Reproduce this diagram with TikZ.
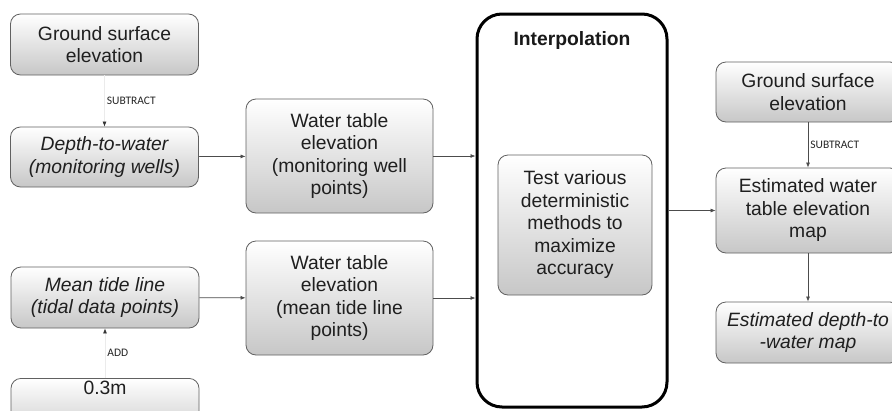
\documentclass[tikz,border=0pt]{standalone}
\usepackage{fontspec}
\setmainfont{Liberation Sans}
\newfontfamily\opfont{Carlito}
\usetikzlibrary{arrows.meta}
\begin{document}
\begin{tikzpicture}[x=1pt,y=-1pt,
  box/.style={draw=black!62, line width=0.8pt, rounded corners=10pt,
    top color=white, bottom color=black!22, align=center, inner sep=0pt,
    font=\fontsize{19.3}{22.5}\selectfont, text=black!88},
  arr/.style={draw=black!70, line width=0.7pt, -{Latex[length=5pt,width=4pt]}},
  arrfaint/.style={draw=black!8, line width=0.7pt, -{Latex[length=5pt,width=4pt,color=black!80]}},
  op/.style={font=\opfont\fontsize{11.5}{13}\selectfont, text=black!85, right, inner sep=2pt}]
\useasboundingbox (0,0) rectangle (892,410);
\fill[white] (0,0) rectangle (892,410);

% left column
\node[box, minimum width=188pt, minimum height=61pt] (gse1) at (104.5,44.5) {Ground surface\\elevation};
\node[box, minimum width=188pt, minimum height=60pt] (dtw) at (104.5,157) {\itshape Depth-to-water\\\itshape (monitoring wells)};
\node[box, minimum width=188pt, minimum height=61pt] (mtl) at (105,297.5) {\itshape Mean tide line\\\itshape (tidal data points)};
\node[box, minimum width=188pt, minimum height=61pt, anchor=north,
  label={[anchor=north, inner sep=0pt, yshift=-3pt, font=\fontsize{19.3}{22.5}\selectfont, text=black!88]north:0.3m}] (p3) at (105,378) {};

% middle column
\node[box, minimum width=187pt, minimum height=114pt] (wt1) at (339.5,156) {Water table\\elevation\\(monitoring well\\points)};
\node[box, minimum width=187pt, minimum height=114pt] (wt2) at (339.5,298) {Water table\\elevation\\(mean tide line\\points)};

% interpolation
\node[draw=black, line width=3pt, rounded corners=25pt, fill=white,
  minimum width=190pt, minimum height=393pt, inner sep=0pt,
  label={[anchor=north, inner sep=0pt, yshift=-19pt, font=\bfseries\fontsize{19.3}{22.5}\selectfont, text=black!90]north:Interpolation}] (interp) at (572,210.5) {};
\node[box, minimum width=154pt, minimum height=140pt] (test) at (575,225) {Test various\\deterministic\\methods to\\maximize\\accuracy};

% right column
\node[box, minimum width=184pt, minimum height=60pt] (gse2) at (808,92) {Ground surface\\elevation};
\node[box, minimum width=184pt, minimum height=85pt] (ewt) at (808,210.5) {Estimated water\\table elevation\\map};
\node[box, minimum width=184pt, minimum height=61pt] (edw) at (808,332.5) {\itshape Estimated depth-to\\\itshape -water map};

% connectors
\draw[arrfaint] (gse1) -- node[op]{SUBTRACT} (dtw);
\draw[arrfaint] (p3) -- node[op]{ADD} (mtl);
\draw[arr] (dtw) -- (wt1);
\draw[arr] (mtl) -- (wt2);
\draw[arr] (wt1.east) -- (wt1.east -| interp.west);
\draw[arr] (wt2.east) -- (wt2.east -| interp.west);
\draw[arr] (interp.east) -- (ewt.west);
\draw[arr] (gse2) -- node[op]{SUBTRACT} (ewt);
\draw[arr] (ewt) -- (edw);
\end{tikzpicture}
\end{document}
